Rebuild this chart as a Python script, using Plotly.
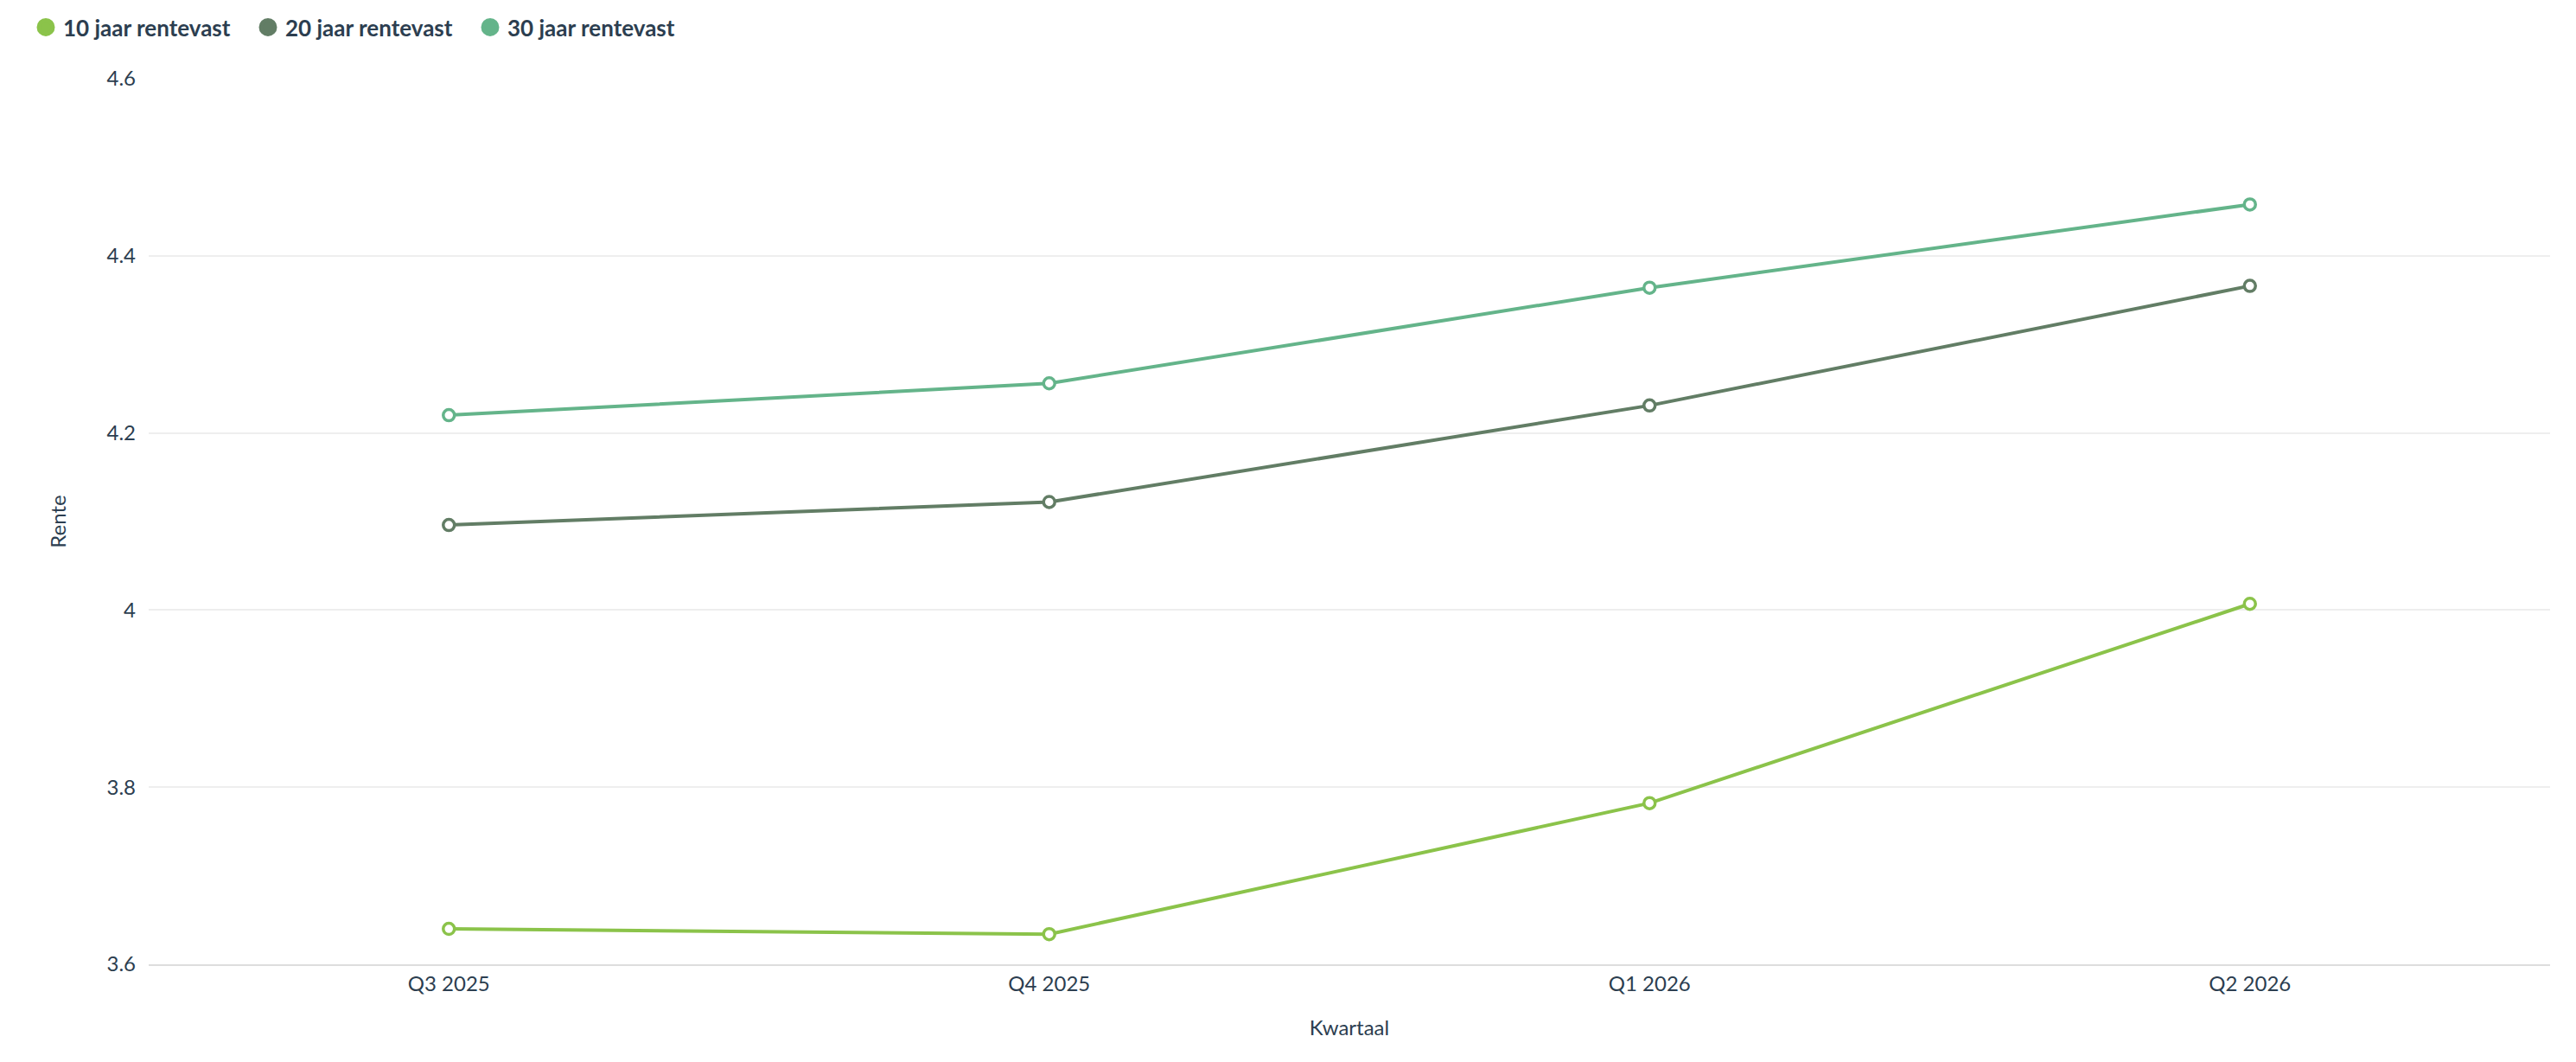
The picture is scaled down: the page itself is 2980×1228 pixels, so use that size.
import plotly.graph_objects as go

quarters = ["Q3 2025", "Q4 2025", "Q1 2026", "Q2 2026"]
rente_10 = [3.640, 3.634, 3.782, 4.007]
rente_20 = [4.096, 4.122, 4.231, 4.366]
rente_30 = [4.220, 4.256, 4.364, 4.458]
series_names = ["10 jaar rentevast", "20 jaar rentevast", "30 jaar rentevast"]
colors = ["#8bc34a", "#627d65", "#64b48a"]

fig = go.Figure()
for name, vals, col in zip(series_names, [rente_10, rente_20, rente_30], colors):
    fig.add_trace(go.Scatter(
        x=quarters, y=vals, name=name, mode="lines+markers",
        line=dict(color=col, width=4),
        marker=dict(size=13, color="white", line=dict(color=col, width=3.5)),
        showlegend=False,
    ))
    fig.add_trace(go.Scatter(
        x=[None], y=[None], name=name, mode="markers",
        marker=dict(size=16, color=col, line=dict(color=col, width=5)), showlegend=True,
    ))

text_color = "#2c3e50"
fig.update_layout(
    width=2980, height=1228,
    paper_bgcolor="white", plot_bgcolor="white",
    margin=dict(l=164, r=38, t=83, b=121, autoexpand=False),
    font=dict(family="Lato", size=24, color=text_color),
    legend=dict(orientation="h", x=25/2980, xanchor="left", y=1.0, yanchor="top",
                xref="container", yref="container",
                font=dict(family="Lato", size=26, color=text_color, weight="bold"),
                itemwidth=30, tracegroupgap=0, traceorder="normal",
                entrywidth=212, entrywidthmode="pixels"),
    showlegend=True,
)
fig.update_xaxes(
    type="category", range=[-0.5, 3.5],
    showgrid=False, showline=True, linecolor="#dddddd", linewidth=2,
    ticks="", tickfont=dict(size=24, color=text_color),
    title=dict(text="Kwartaal", font=dict(size=24, color=text_color), standoff=30),
    zeroline=False,
)
fig.update_yaxes(
    range=[3.6, 4.6], tickvals=[3.6, 3.8, 4.0, 4.2, 4.4, 4.6],
    ticktext=["3.6", "3.8", "4", "4.2", "4.4", "4.6"],
    showgrid=True, gridcolor="#eeeeee", gridwidth=1.5,
    zeroline=False, showline=False, ticks="", ticklabelstandoff=14,
    tickfont=dict(size=24, color=text_color),
    title=dict(text="Rente", font=dict(size=24, color=text_color), standoff=40),
)
fig.write_html("out.html")
